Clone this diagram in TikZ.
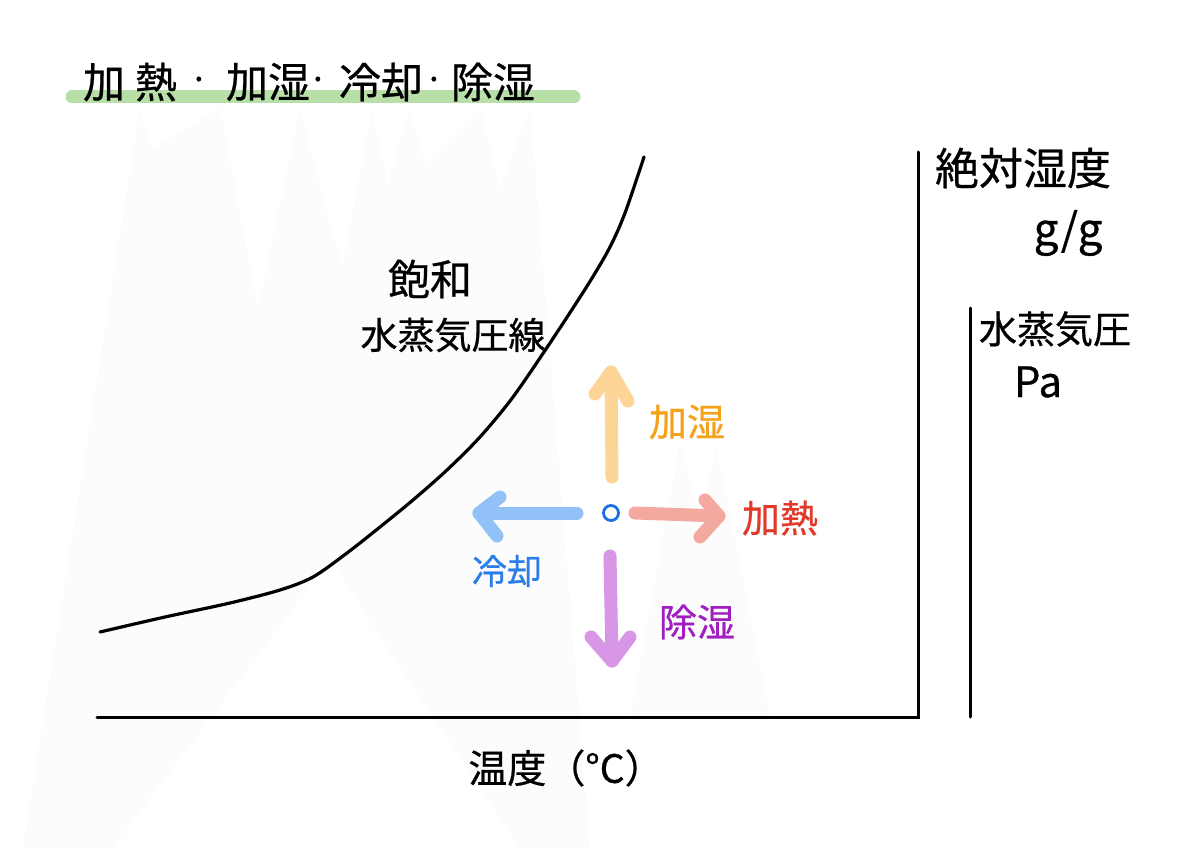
\documentclass[tikz,border=0pt]{standalone}
\usepackage{fontspec}
\newfontfamily\jp{Noto Sans CJK JP}[FakeBold=0.6]
\usetikzlibrary{calc}
\definecolor{bgspike}{HTML}{FCFCFD}
\definecolor{hlgreen}{HTML}{B9DFA8}
\definecolor{arrOrange}{HTML}{FCD597}
\definecolor{arrSalmon}{HTML}{F4A9A0}
\definecolor{arrBlue}{HTML}{92C1F7}
\definecolor{arrPurple}{HTML}{D897E6}
\definecolor{txtOrange}{HTML}{F5A21B}
\definecolor{txtRed}{HTML}{E23A2A}
\definecolor{txtBlue}{HTML}{2B7DE9}
\definecolor{txtPurple}{HTML}{A01FC0}
\definecolor{ptBlue}{HTML}{1A6FE0}
\begin{document}
\begin{tikzpicture}[x=1pt,y=-1pt,
  jptext/.style={inner sep=0pt, font=\jp\fontsize{#1}{#1}\selectfont},
  fat/.style={line width=13pt, line cap=round, line join=round, draw=#1},
  axisline/.style={line width=3pt, line cap=round, draw=black},
  curveline/.style={line width=3.2pt, line cap=round, line join=round, draw=black}]
\useasboundingbox (0,0) rectangle (1200,848);
\fill[white] (0,0) rectangle (1200,848);
% faint background texture
\fill[bgspike] (23,848) -- (140,108) -- (152,150) -- (220,108) -- (258,310) -- (300,108) -- (342,270) -- (372,108) -- (388,185) -- (410,108) -- (425,165) -- (480,108) -- (500,190) -- (530,108) -- (590,848) -- (520,848) -- (330,560) -- (112,848) -- cycle;
\fill[bgspike] (630,717) -- (680,443) -- (700,520) -- (717,447) -- (770,717) -- cycle;

% title highlight
\coordinate (hlA) at (72,97);
\coordinate (hlB) at (574,97);
\draw[line width=13pt, line cap=round, draw=hlgreen] (hlA) -- (hlB);
\node[jptext=42pt] (t1) at (130,82) {加\hspace{10pt}熱};
\node[jptext=34pt] (d1) at (199,84) {·};
\node[jptext=42pt] (t2) at (268,82) {加湿};
\node[jptext=34pt] (d2) at (318,84) {·};
\node[jptext=42pt] (t3) at (381,82) {冷却};
\node[jptext=34pt] (d3) at (434,84) {·};
\node[jptext=42pt] (t4) at (493,82) {除湿};

% axes
\coordinate (origin) at (97,717);
\coordinate (xend) at (918,717);
\coordinate (ytop) at (918,152);
\coordinate (y2top) at (970,308);
\coordinate (y2bot) at (970,717);
\draw[axisline] (origin) -- (xend) -- (ytop);
\draw[axisline] (y2top) -- (y2bot);

% axis labels
\node[jptext=44pt] (absh) at (1023,168) {絶対湿度};
\node[jptext=44pt] (gg) at (1068,233) {g/g};
\node[jptext=38pt] (vp) at (1055,329) {水蒸気圧};
\node[jptext=42pt] (pa) at (1038,382) {Pa};
\node[jptext=39pt] (temp) at (566,768) {温度（°C）};

% saturation curve
\draw[curveline] plot[smooth, tension=0.5] coordinates {(100,632) (165,617) (230,603) (280,590) (313,577) (347,553) (380,527) (413,500) (447,470) (480,437) (513,397) (552,340) (589,283) (610,247) (625,213) (644,157)};
\node[jptext=42pt] (sat1) at (430,279) {飽和};
\node[jptext=37pt] (sat2) at (453,335) {水蒸気圧線};

% state point
\node[circle, draw=ptBlue, line width=2.8pt, minimum size=15pt, inner sep=0pt] (pt) at (611,513) {};

% humidify (up)
\coordinate (upS) at (612,477);
\coordinate (upE) at (611,372);
\draw[fat=arrOrange] (upS) -- (upE);
\draw[fat=arrOrange] ($(upE)+(-16,22)$) -- (upE) -- ($(upE)+(17,29)$);
\node[jptext=38pt, text=txtOrange] (lhum) at (687,422) {加湿};

% heat (right)
\coordinate (rtS) at (635,513);
\coordinate (rtE) at (719,516);
\draw[fat=arrSalmon] (rtS) -- (rtE);
\draw[fat=arrSalmon] ($(rtE)+(-14,-16)$) -- (rtE) -- ($(rtE)+(-19,21)$);
\node[jptext=38pt, text=txtRed] (lheat) at (780,518) {加熱};

% cool (left)
\coordinate (lfS) at (577,513);
\coordinate (lfE) at (479,513);
\draw[fat=arrBlue] (lfS) -- (lfE);
\draw[fat=arrBlue] ($(lfE)+(21,-16)$) -- (lfE) -- ($(lfE)+(18,23)$);
\node[jptext=35pt, text=txtBlue] (lcool) at (507,571) {冷却};

% dehumidify (down)
\coordinate (dnS) at (610,556);
\coordinate (dnE) at (612,661);
\draw[fat=arrPurple] (dnS) -- (dnE);
\draw[fat=arrPurple] ($(dnE)+(-21,-24)$) -- (dnE) -- ($(dnE)+(18,-24)$);
\node[jptext=38pt, text=txtPurple] (ldeh) at (697,622) {除湿};
\end{tikzpicture}
\end{document}
